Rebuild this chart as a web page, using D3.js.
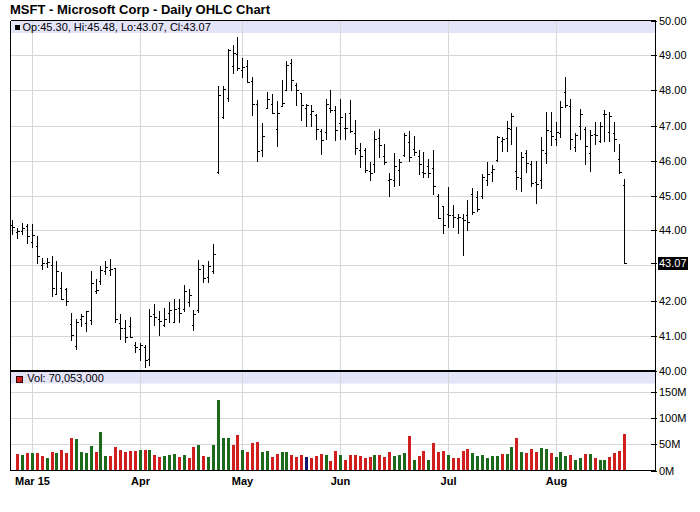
<!DOCTYPE html>
<html>
<head>
<meta charset="utf-8">
<script src="https://cdn.jsdelivr.net/npm/d3@7"></script>
<style>
  html, body { margin: 0; padding: 0; background: #ffffff; }
  svg { display: block; }
  text { font-family: "Liberation Sans", Arial, sans-serif; }
</style>
</head>
<body>
<div id="chart"></div>
<script>
// ---------------- DATA ----------------
const title = "MSFT - Microsoft Corp - Daily OHLC Chart";

const dates = [
  "2015-02-24","2015-02-25","2015-02-26","2015-02-27",
  "2015-03-02","2015-03-03","2015-03-04","2015-03-05","2015-03-06",
  "2015-03-09","2015-03-10","2015-03-11","2015-03-12","2015-03-13",
  "2015-03-16","2015-03-17","2015-03-18","2015-03-19","2015-03-20",
  "2015-03-23","2015-03-24","2015-03-25","2015-03-26","2015-03-27",
  "2015-03-30","2015-03-31",
  "2015-04-01","2015-04-02","2015-04-06","2015-04-07","2015-04-08","2015-04-09","2015-04-10",
  "2015-04-13","2015-04-14","2015-04-15","2015-04-16","2015-04-17",
  "2015-04-20","2015-04-21","2015-04-22","2015-04-23","2015-04-24",
  "2015-04-27","2015-04-28","2015-04-29","2015-04-30",
  "2015-05-01","2015-05-04","2015-05-05","2015-05-06","2015-05-07","2015-05-08",
  "2015-05-11","2015-05-12","2015-05-13","2015-05-14","2015-05-15",
  "2015-05-18","2015-05-19","2015-05-20","2015-05-21","2015-05-22",
  "2015-05-26","2015-05-27","2015-05-28","2015-05-29",
  "2015-06-01","2015-06-02","2015-06-03","2015-06-04","2015-06-05",
  "2015-06-08","2015-06-09","2015-06-10","2015-06-11","2015-06-12",
  "2015-06-15","2015-06-16","2015-06-17","2015-06-18","2015-06-19",
  "2015-06-22","2015-06-23","2015-06-24","2015-06-25","2015-06-26",
  "2015-06-29","2015-06-30",
  "2015-07-01","2015-07-02","2015-07-06","2015-07-07","2015-07-08","2015-07-09","2015-07-10",
  "2015-07-13","2015-07-14","2015-07-15","2015-07-16","2015-07-17",
  "2015-07-20","2015-07-21","2015-07-22","2015-07-23","2015-07-24",
  "2015-07-27","2015-07-28","2015-07-29","2015-07-30","2015-07-31",
  "2015-08-03","2015-08-04","2015-08-05","2015-08-06","2015-08-07",
  "2015-08-10","2015-08-11","2015-08-12","2015-08-13","2015-08-14",
  "2015-08-17","2015-08-18","2015-08-19","2015-08-20","2015-08-21"
];

const open = [
  44.15,43.95,43.99,44.13,
  43.67,43.56,43.01,43.07,43.00,
  42.19,42.35,42.32,41.33,40.70,
  41.47,41.37,41.43,42.26,42.56,
  42.85,42.88,42.92,41.35,41.20,
  41.26,40.73,
  40.60,40.66,40.34,41.61,41.46,41.30,41.63,
  41.40,41.80,41.76,41.95,41.30,
  41.73,43.00,42.67,42.85,45.66,
  47.23,47.78,48.71,49.05,
  48.58,48.71,48.26,47.60,46.30,47.50,
  47.60,46.90,47.55,48.00,48.80,
  48.15,47.93,47.50,47.33,47.30,
  46.85,46.82,47.50,47.43,
  47.06,46.93,47.37,46.79,46.31,
  46.30,45.70,45.89,46.65,46.14,
  45.45,45.45,45.73,46.15,46.52,
  46.33,46.12,45.67,45.85,45.79,
  45.00,44.70,
  44.46,44.43,44.35,44.35,44.45,45.05,44.95,
  44.98,45.45,45.68,46.01,46.55,
  46.65,46.90,45.70,45.50,46.21,
  45.90,45.40,45.44,46.20,46.85,
  46.60,46.80,47.97,47.55,46.40,
  47.00,46.90,46.21,46.76,46.55,
  47.33,46.81,46.80,46.05,45.30
];

const high = [
  44.29,44.08,44.22,44.19,
  44.19,43.83,43.21,43.22,43.27,
  43.14,42.81,42.35,41.65,41.46,
  41.62,41.71,42.83,42.62,42.98,
  43.14,43.19,42.92,41.62,41.43,
  41.54,40.81,
  40.78,40.74,41.76,41.90,41.69,41.79,41.95,
  42.05,42.03,42.45,42.33,41.73,
  43.16,43.02,43.14,43.60,48.14,
  48.14,49.19,49.30,49.52,
  48.92,48.86,48.38,47.74,47.08,47.95,
  47.90,47.69,48.31,48.83,48.89,
  48.22,47.93,47.60,47.59,47.33,
  46.89,47.76,48.02,47.57,
  47.76,47.35,47.73,47.16,46.50,
  46.36,45.95,46.83,46.90,46.46,
  45.64,46.22,46.05,46.78,46.83,
  46.71,46.29,46.24,46.05,46.29,
  45.05,44.71,
  45.24,44.74,44.48,44.48,44.88,45.22,45.12,
  45.62,45.95,45.86,46.69,46.67,
  47.14,47.35,46.95,46.24,46.30,
  46.00,46.00,46.67,47.38,47.38,
  47.10,47.71,48.40,47.76,46.78,
  47.48,46.95,46.88,47.10,47.10,
  47.45,47.38,47.10,46.46,45.48
];

const low = [
  43.90,43.79,43.89,43.65,
  43.52,43.07,42.89,42.95,42.14,
  42.19,42.03,41.86,40.86,40.60,
  41.27,41.14,41.33,42.22,42.48,
  42.76,42.73,41.40,40.90,40.81,
  40.95,40.52,
  40.30,40.10,40.16,41.30,41.02,41.26,41.40,
  41.40,41.40,41.71,41.83,41.16,
  41.67,42.54,42.54,42.78,45.65,
  47.21,47.71,48.50,48.59,
  48.40,48.24,47.30,46.00,46.14,47.50,
  47.36,46.41,47.55,48.00,48.02,
  47.59,47.16,47.00,47.00,46.60,
  46.19,46.62,47.38,46.59,
  46.62,46.62,46.81,46.19,45.81,
  45.67,45.45,45.67,46.11,45.90,
  45.00,45.26,45.31,46.14,46.00,
  46.17,45.62,45.52,45.54,45.03,
  44.35,43.92,
  44.10,44.10,43.92,43.29,44.00,44.46,44.57,
  44.93,45.29,45.41,45.98,46.27,
  46.27,46.48,45.19,45.12,45.67,
  45.26,44.78,45.22,45.92,46.43,
  46.43,46.67,47.54,46.33,46.27,
  46.62,45.89,45.70,46.48,46.52,
  46.55,46.57,46.27,45.64,43.07
];

const close = [
  44.09,43.99,44.06,43.85,
  43.88,43.28,43.06,43.11,42.36,
  42.85,42.03,41.98,41.02,41.38,
  41.56,41.70,42.50,42.29,42.88,
  42.97,42.90,41.46,41.21,40.97,
  40.96,40.66,
  40.72,40.29,41.55,41.53,41.42,41.48,41.72,
  41.76,41.65,42.26,42.16,41.62,
  42.91,42.64,42.99,43.34,47.87,
  48.03,49.16,49.06,48.64,
  48.66,48.24,47.60,46.28,46.70,47.75,
  47.37,47.35,47.63,48.72,48.30,
  48.01,47.58,47.58,47.42,46.90,
  46.59,47.61,47.45,46.86,
  47.23,46.92,46.85,46.36,46.14,
  45.73,45.65,46.61,46.44,45.97,
  45.48,45.83,45.97,46.72,46.10,
  46.23,45.91,45.64,45.65,45.26,
  44.37,44.15,
  44.45,44.40,44.39,44.30,44.24,44.52,44.61,
  45.54,45.62,45.76,46.66,46.62,
  46.92,47.28,45.54,46.11,45.94,
  45.35,45.34,46.29,46.88,46.70,
  46.81,47.54,47.58,46.62,46.74,
  47.33,46.41,46.74,46.73,47.00,
  47.32,47.27,46.61,45.66,43.07
];

// volume in millions of shares (first day has no volume bar in the chart)
const volume = [
  null,30.8,28.8,34.0,
  32.7,32.7,27.0,23.0,36.0,
  32.7,40.0,32.7,61.5,59.6,
  36.0,32.7,46.0,34.6,73.0,
  27.0,27.0,44.0,38.5,34.6,
  36.5,36.5,
  38.5,38.5,40.0,28.8,25.0,27.0,28.8,
  30.8,25.0,28.8,23.0,44.0,
  48.0,27.0,25.0,48.0,134.6,
  61.5,61.5,48.0,67.0,
  40.0,34.6,52.0,54.0,34.6,36.5,
  25.0,30.8,34.6,34.6,28.8,
  25.0,28.8,25.0,23.0,27.0,
  30.8,28.8,19.0,36.5,
  28.8,21.0,28.8,28.8,27.0,
  23.0,25.0,28.8,28.8,25.0,
  34.6,27.0,28.8,32.7,65.4,
  21.0,27.0,36.5,21.0,52.0,
  34.6,36.5,
  28.8,23.0,23.0,36.5,40.4,32.7,27.0,
  28.8,23.0,27.0,27.0,30.8,
  30.8,44.0,61.5,34.6,32.7,
  40.4,34.6,42.3,40.4,32.7,
  25.0,34.6,27.0,28.8,19.2,
  23.0,30.8,30.8,23.0,21.0,
  21.0,25.0,32.7,36.5,70.053
];

const monthTickDates  = ["2015-03-02","2015-04-01","2015-05-01","2015-06-01","2015-07-01","2015-08-03"];
const monthTickLabels = ["Mar 15","Apr","May","Jun","Jul","Aug"];
const priceTicks  = [40,41,42,43,44,45,46,47,48,49,50];
const priceTickLabels = ["40.00","41.00","42.00","","44.00","45.00","46.00","47.00","48.00","49.00","50.00"];
const volumeTicks = [0,50,100,150];
const volumeTickLabels = ["0M","50M","100M","150M"];
const lastLabel = "43.07";
const priceLegend = "Op:45.30, Hi:45.48, Lo:43.07, Cl:43.07";
const volumeLegend = "Vol: 70,053,000";

// ---------------- LAYOUT ----------------
const W = 700, H = 512;
const left = 10.5, right = 655.5;
const priceTop = 20.5, priceBottom = 370.5;
const volTop = 371, volBottom = 470.5;

const svg = d3.select("#chart").append("svg")
  .attr("width", W).attr("height", H);

const x = d3.scaleLinear().domain([0, dates.length - 1]).range([12.4, 624]);
const y = d3.scaleLinear().domain([40, 50]).range([priceBottom, priceTop]);
const yv = d3.scaleLinear().domain([0, 190]).range([volBottom, volTop]);
const px = i => Math.round(x(i)) + 0.5;

const gridColor = "#d7d7d7";
const bandColor = "#e4e4f8";

// title
svg.append("text").attr("x", 10).attr("y", 14)
  .attr("font-size", 13).attr("font-weight", "bold").attr("fill", "#000")
  .text(title);

// legend bands
svg.append("rect").attr("x", left).attr("y", priceTop).attr("width", right - left).attr("height", 12.5)
  .attr("fill", bandColor);
svg.append("rect").attr("x", left).attr("y", volTop).attr("width", right - left).attr("height", 12.5)
  .attr("fill", bandColor);

const grid = svg.append("g").attr("shape-rendering", "crispEdges");
// horizontal price grid
grid.selectAll("line.hp").data(priceTicks.filter(t => t > 40 && t < 50)).enter().append("line")
  .attr("x1", left).attr("x2", right)
  .attr("y1", d => Math.round(y(d)) + 0.5).attr("y2", d => Math.round(y(d)) + 0.5)
  .attr("stroke", gridColor);
// horizontal volume grid
grid.selectAll("line.hv").data(volumeTicks.filter(t => t > 0)).enter().append("line")
  .attr("x1", left).attr("x2", right)
  .attr("y1", d => Math.round(yv(d)) + 0.5).attr("y2", d => Math.round(yv(d)) + 0.5)
  .attr("stroke", gridColor);
// vertical month grid
const monthIdx = monthTickDates.map(d => dates.indexOf(d));
grid.selectAll("line.vm").data(monthIdx).enter().append("line")
  .attr("x1", d => px(d)).attr("x2", d => px(d))
  .attr("y1", priceTop).attr("y2", volBottom)
  .attr("stroke", gridColor);

// legends
svg.append("rect").attr("x", 15).attr("y", 25).attr("width", 5).attr("height", 5).attr("fill", "#000");
svg.append("text").attr("x", 22.5).attr("y", 31).attr("font-size", 11).attr("fill", "#000").text(priceLegend);
svg.append("rect").attr("x", 16.5).attr("y", 376.5).attr("width", 6).attr("height", 6)
  .attr("fill", "#d01f1f").attr("stroke", "#300").attr("stroke-width", 1);
svg.append("text").attr("x", 27.3).attr("y", 382).attr("font-size", 11).attr("fill", "#000").text(volumeLegend);

// OHLC bars
const bars = svg.append("g").attr("shape-rendering", "crispEdges").attr("stroke", "#000").attr("stroke-width", 1);
dates.forEach((d, i) => {
  const cx = px(i);
  bars.append("line").attr("x1", cx).attr("x2", cx)
    .attr("y1", Math.round(y(high[i]))).attr("y2", Math.round(y(low[i])) + 1);
  const yo = Math.round(y(open[i])) + 0.5, yc = Math.round(y(close[i])) + 0.5;
  bars.append("line").attr("x1", cx - 2).attr("x2", cx).attr("y1", yo).attr("y2", yo);
  bars.append("line").attr("x1", cx).attr("x2", cx + 2).attr("y1", yc).attr("y2", yc);
});

// volume bars
const volColor = i => {
  if (i === 0) return "#d01f1f";
  if (close[i] > close[i - 1]) return "#1c6b1c";
  if (close[i] < close[i - 1]) return "#d01f1f";
  return "#14146e";
};
svg.append("g").attr("shape-rendering", "crispEdges")
  .selectAll("rect").data(volume.map((v, i) => ({ v, i })).filter(d => d.v != null)).enter().append("rect")
  .attr("x", d => Math.round(x(d.i)) - 1).attr("width", 3)
  .attr("y", d => yv(d.v)).attr("height", d => volBottom - yv(d.v))
  .attr("fill", d => volColor(d.i));

// frame
const frame = svg.append("g").attr("shape-rendering", "crispEdges").attr("stroke", "#000");
frame.append("line").attr("x1", left).attr("x2", right).attr("y1", priceTop).attr("y2", priceTop);
frame.append("line").attr("x1", left).attr("x2", left).attr("y1", priceTop).attr("y2", volBottom);
frame.append("line").attr("x1", right).attr("x2", right).attr("y1", priceTop).attr("y2", volBottom);
frame.append("line").attr("x1", left).attr("x2", right).attr("y1", volBottom).attr("y2", volBottom);
frame.append("line").attr("x1", left).attr("x2", right).attr("y1", 371).attr("y2", 371).attr("stroke-width", 2);

// right price axis
const pAxis = svg.append("g");
priceTicks.forEach((t, k) => {
  if (!priceTickLabels[k]) return;
  const ty = Math.round(y(t)) + 0.5;
  pAxis.append("line").attr("x1", 651).attr("x2", 657).attr("y1", ty).attr("y2", ty)
    .attr("stroke", "#000").attr("shape-rendering", "crispEdges");
  pAxis.append("text").attr("x", 659).attr("y", ty).attr("dy", "0.36em")
    .attr("font-size", 11).attr("fill", "#000").text(priceTickLabels[k]);
});
// last price marker
const ly = Math.round(y(close[close.length - 1])) + 0.5;
pAxis.append("line").attr("x1", 651).attr("x2", 657).attr("y1", ly).attr("y2", ly)
  .attr("stroke", "#000").attr("shape-rendering", "crispEdges");
pAxis.append("rect").attr("x", 658).attr("y", ly - 6.5).attr("width", 30).attr("height", 13).attr("fill", "#000");
pAxis.append("text").attr("x", 659).attr("y", ly).attr("dy", "0.36em")
  .attr("font-size", 11).attr("fill", "#fff").text(lastLabel);

// right volume axis
const vAxis = svg.append("g");
volumeTicks.forEach((t, k) => {
  const ty = Math.round(yv(t)) + 0.5;
  vAxis.append("line").attr("x1", 651).attr("x2", 657).attr("y1", ty).attr("y2", ty)
    .attr("stroke", "#000").attr("shape-rendering", "crispEdges");
  vAxis.append("text").attr("x", 659).attr("y", ty).attr("dy", "0.36em")
    .attr("font-size", 11).attr("fill", "#000").text(volumeTickLabels[k]);
});

// bottom month labels
svg.append("g").selectAll("text").data(monthIdx).enter().append("text")
  .attr("x", d => px(d)).attr("y", 485)
  .attr("text-anchor", "middle").attr("font-size", 11).attr("font-weight", "bold").attr("fill", "#000")
  .text((d, k) => monthTickLabels[k]);
</script>
</body>
</html>
